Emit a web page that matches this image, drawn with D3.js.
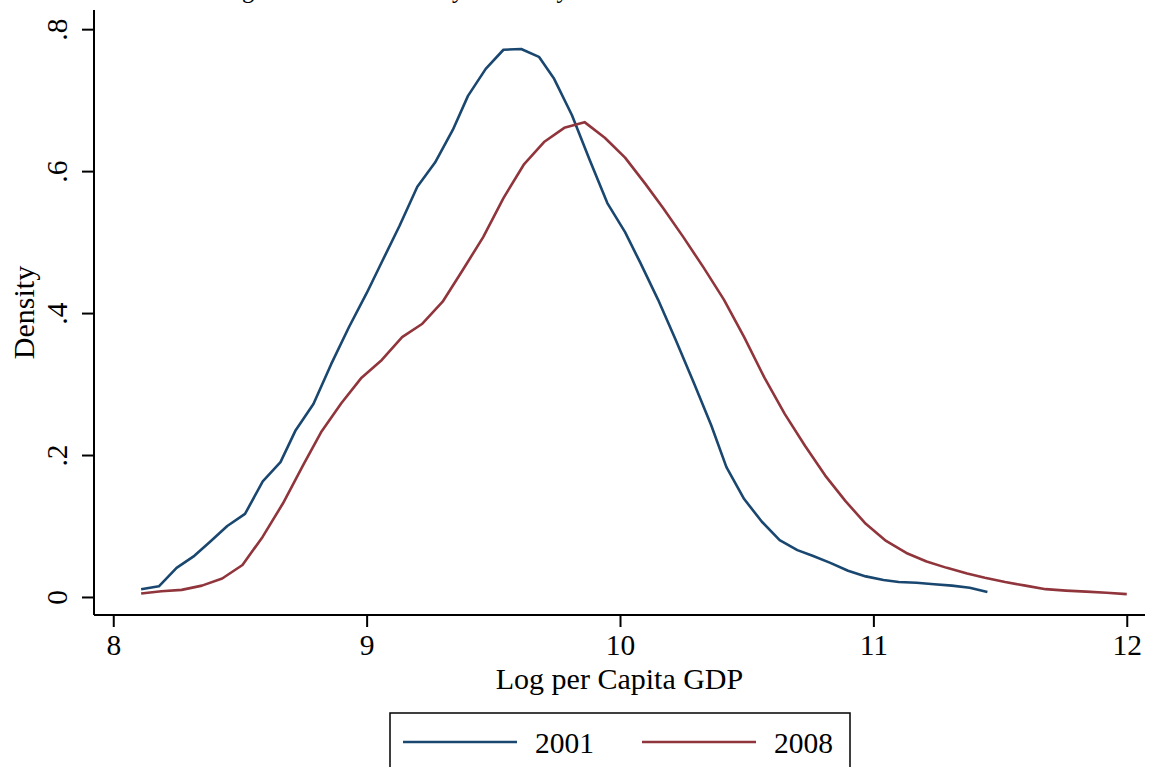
<!DOCTYPE html>
<html>
<head>
<meta charset="utf-8">
<script src="https://cdn.jsdelivr.net/npm/d3@7"></script>
<style>
  html, body { margin: 0; padding: 0; background: #fff; }
  svg { display: block; }
  text { font-family: "Liberation Serif", "DejaVu Serif", serif; fill: #000; }
</style>
</head>
<body>
<svg id="chart" width="1152" height="767"></svg>
<script>
// ---- data ----
const x2001 = [8.11, 8.18, 8.25, 8.32, 8.38, 8.45, 8.52, 8.59, 8.66, 8.72,
               8.79, 8.86, 8.93, 9.00, 9.06, 9.13, 9.20, 9.27, 9.34, 9.40,
               9.47, 9.54, 9.61, 9.68, 9.74, 9.81, 9.88, 9.95, 10.02, 10.08,
               10.15, 10.22, 10.29, 10.36, 10.42, 10.49, 10.56, 10.63, 10.70, 10.76,
               10.83, 10.90, 10.97, 11.04, 11.10, 11.17, 11.24, 11.31, 11.38, 11.45];
const d2001 = [0.011, 0.015, 0.041, 0.058, 0.077, 0.100, 0.117, 0.163, 0.190, 0.235,
               0.272, 0.328, 0.380, 0.428, 0.472, 0.523, 0.578, 0.612, 0.658, 0.706,
               0.744, 0.771, 0.772, 0.761, 0.730, 0.679, 0.616, 0.555, 0.514, 0.471,
               0.419, 0.362, 0.303, 0.242, 0.183, 0.138, 0.106, 0.080, 0.066, 0.058,
               0.048, 0.037, 0.029, 0.024, 0.021, 0.020, 0.018, 0.016, 0.013, 0.007];
const x2008 = [8.11, 8.19, 8.27, 8.35, 8.43, 8.51, 8.59, 8.67, 8.75, 8.82,
               8.90, 8.98, 9.06, 9.14, 9.22, 9.30, 9.38, 9.46, 9.54, 9.62,
               9.70, 9.78, 9.86, 9.94, 10.02, 10.10, 10.17, 10.25, 10.33, 10.41,
               10.49, 10.57, 10.65, 10.73, 10.81, 10.89, 10.97, 11.05, 11.13, 11.21,
               11.29, 11.37, 11.44, 11.52, 11.60, 11.68, 11.76, 11.84, 11.92, 12.00];
const d2008 = [0.005, 0.008, 0.010, 0.016, 0.026, 0.045, 0.085, 0.132, 0.186, 0.232,
               0.273, 0.309, 0.334, 0.366, 0.385, 0.416, 0.461, 0.507, 0.562, 0.609,
               0.641, 0.661, 0.669, 0.647, 0.619, 0.582, 0.548, 0.507, 0.464, 0.419,
               0.366, 0.309, 0.258, 0.213, 0.171, 0.135, 0.103, 0.079, 0.062, 0.050,
               0.041, 0.033, 0.027, 0.021, 0.016, 0.011, 0.009, 0.0075, 0.006, 0.004];
const xTicks = [8, 9, 10, 11, 12];
const yTicks = [0, 0.2, 0.4, 0.6, 0.8];
const yTickLabels = ["0", ".2", ".4", ".6", ".8"];
const seriesNames = ["2001", "2008"];
const seriesColors = ["#1a476f", "#90353b"];
const titleText = "Regional Income Density of County";
const xTitle = "Log per Capita GDP";
const yTitle = "Density";

// ---- layout ----
const svg = d3.select("#chart");
const plotLeft = 94, plotRight = 1145, plotTop = 10, plotBottom = 615;

const x = d3.scaleLinear().domain([7.924, 12.072]).range([plotLeft, plotRight]);
const y = d3.scaleLinear().domain([-0.0254, 0.827]).range([plotBottom, plotTop]);

// title (cropped at the top in the reference)
svg.append("text")
  .attr("x", 215).attr("y", -2)
  .style("font-size", "24.4px")
  .text(titleText);

// series
const series = [
  { name: seriesNames[0], xs: x2001, ds: d2001, color: seriesColors[0] },
  { name: seriesNames[1], xs: x2008, ds: d2008, color: seriesColors[1] }
];
const line = d3.line().x(p => x(p[0])).y(p => y(p[1]));
series.forEach(s => {
  svg.append("path")
    .datum(s.xs.map((v, i) => [v, s.ds[i]]))
    .attr("fill", "none")
    .attr("stroke", s.color)
    .attr("stroke-width", 2.6)
    .attr("stroke-linejoin", "round")
    .attr("d", line);
});

// x axis
const xAxis = d3.axisBottom(x).tickValues(xTicks).tickSize(12).tickPadding(8).tickFormat(d3.format("d"));
const gx = svg.append("g").attr("transform", `translate(0,${plotBottom})`).call(xAxis);
gx.select(".domain").attr("d", `M${plotLeft},0H${plotRight}`).attr("stroke", "#000").attr("stroke-width", 2);
gx.selectAll(".tick line").attr("stroke", "#000").attr("stroke-width", 2);
gx.selectAll(".tick text")
  .attr("dy", null).attr("y", 40)
  .style("font-family", "Liberation Serif, serif").style("font-size", "29.5px").attr("fill", "#000");

// y axis
const yAxis = d3.axisLeft(y).tickValues(yTicks).tickSize(12).tickFormat((d, i) => yTickLabels[i]);
const gy = svg.append("g").attr("transform", `translate(${plotLeft},0)`).call(yAxis);
gy.select(".domain").attr("d", `M0,${plotTop}V${plotBottom}`).attr("stroke", "#000").attr("stroke-width", 2);
gy.selectAll(".tick line").attr("stroke", "#000").attr("stroke-width", 2);
gy.selectAll(".tick text")
  .attr("x", null).attr("dy", null)
  .attr("transform", "translate(-27,0) rotate(-90)")
  .attr("text-anchor", "middle")
  .style("font-family", "Liberation Serif, serif").style("font-size", "29.5px").attr("fill", "#000");

// axis titles
svg.append("text")
  .attr("x", (plotLeft + plotRight) / 2).attr("y", 689)
  .attr("text-anchor", "middle")
  .style("font-size", "30px")
  .text(xTitle);
svg.append("text")
  .attr("transform", `translate(34,${(plotTop + plotBottom) / 2}) rotate(-90)`)
  .attr("text-anchor", "middle")
  .style("font-size", "30px")
  .text(yTitle);

// legend
const leg = svg.append("g");
leg.append("rect")
  .attr("x", 390).attr("y", 713).attr("width", 460).attr("height", 80)
  .attr("fill", "#fff").attr("stroke", "#000").attr("stroke-width", 1.5);
const legX = [403, 642];
series.forEach((s, i) => {
  leg.append("line")
    .attr("x1", legX[i]).attr("x2", legX[i] + 114)
    .attr("y1", 742).attr("y2", 742)
    .attr("stroke", s.color).attr("stroke-width", 2.6);
  leg.append("text")
    .attr("x", legX[i] + 132).attr("y", 753)
    .style("font-size", "29.5px")
    .text(s.name);
});
</script>
</body>
</html>
